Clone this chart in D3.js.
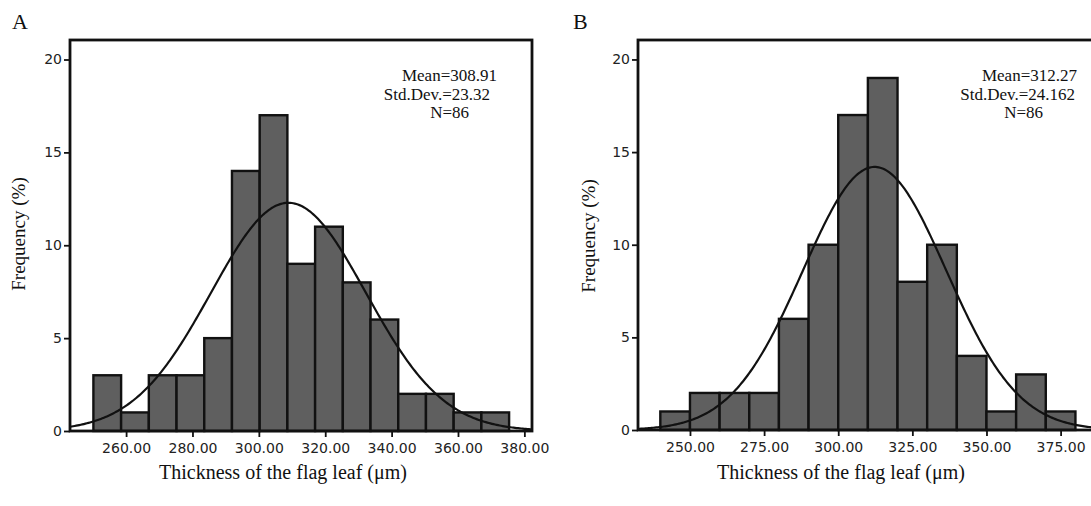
<!DOCTYPE html>
<html>
<head>
<meta charset="utf-8">
<script src="https://cdn.jsdelivr.net/npm/d3@7"></script>
<style>
  body { margin: 0; background: #fff; }
</style>
</head>
<body>
<svg id="chart" width="1091" height="506"></svg>
<script>
// panel A data
const binStartA = 250.15;
const binWidthA = 8.35;
const countsA = [3, 1, 3, 3, 5, 14, 17, 9, 11, 8, 6, 2, 2, 1, 1];
const xTicksA = [260, 280, 300, 320, 340, 360, 380];
const statsA = ["Mean=308.91", "Std.Dev.=23.32", "N=86"];
const meanA = 308.91;
const sdA = 23.32;
const nA = 86;

// panel B data
const binStartB = 240;
const binWidthB = 10;
const countsB = [1, 2, 2, 2, 6, 10, 17, 19, 8, 10, 4, 1, 3, 1];
const xTicksB = [250, 275, 300, 325, 350, 375];
const statsB = ["Mean=312.27", "Std.Dev.=24.162", "N=86"];
const meanB = 312.27;
const sdB = 24.162;
const nB = 86;

// shared
const yTicks = [0, 5, 10, 15, 20];
const xTitle = "Thickness of the flag leaf (\u03bcm)";
const yTitle = "Frequency (%)";

const SERIF = "'Liberation Serif', 'Times New Roman', serif";
const SANS = "'DejaVu Sans', sans-serif";
const COLOURS = { bar: "#5f5f5f", line: "#111", tickText: "#222" };

function histogramGenerator(){
    //dimensions
    let frame = { left: 70, right: 532, top: 40, bottom: 431 };
    let xDomain = [243.1, 382.3];
    let yMax = 21.05;

    function myHist(selection){
        selection.each(function(d){
            const g = d3.select(this);
            const x = d3.scaleLinear().domain(xDomain).range([frame.left, frame.right]);
            const y = d3.scaleLinear().domain([0, yMax]).range([frame.bottom, frame.top]);

            const bins = d.counts.map((c, i) => ({
                x0: d.binStart + i * d.binWidth,
                x1: d.binStart + (i + 1) * d.binWidth,
                count: c
            }));

            //bars
            g.append("g").attr("class", "bars")
                .selectAll("rect")
                .data(bins)
                .join("rect")
                    .attr("x", b => x(b.x0))
                    .attr("y", b => y(b.count))
                    .attr("width", b => x(b.x1) - x(b.x0))
                    .attr("height", b => y(0) - y(b.count))
                    .attr("fill", COLOURS.bar)
                    .attr("stroke", COLOURS.line)
                    .attr("stroke-width", 2.4);

            //normal curve scaled to counts
            const k = d.n * d.binWidth / (d.sd * Math.sqrt(2 * Math.PI));
            const pts = d3.range(0, 301).map(i => {
                const v = xDomain[0] + (xDomain[1] - xDomain[0]) * i / 300;
                return [v, k * Math.exp(-0.5 * Math.pow((v - d.mean) / d.sd, 2))];
            });
            g.append("path")
                .datum(pts)
                .attr("fill", "none")
                .attr("stroke", COLOURS.line)
                .attr("stroke-width", 2.2)
                .attr("d", d3.line().x(p => x(p[0])).y(p => y(p[1])));

            //frame
            g.append("rect")
                .attr("x", frame.left)
                .attr("y", frame.top)
                .attr("width", frame.right - frame.left)
                .attr("height", frame.bottom - frame.top)
                .attr("fill", "none")
                .attr("stroke", COLOURS.line)
                .attr("stroke-width", 2.8);

            //axes
            const xAxis = g.append("g")
                .attr("transform", "translate(0," + frame.bottom + ")")
                .call(d3.axisBottom(x).tickValues(d.xTicks).tickFormat(d3.format(".2f")).tickSize(6).tickPadding(6));
            const yAxis = g.append("g")
                .attr("transform", "translate(" + frame.left + ",0)")
                .call(d3.axisLeft(y).tickValues(yTicks).tickSize(6).tickPadding(2));
            [xAxis, yAxis].forEach(a => {
                a.select(".domain").remove();
                a.selectAll(".tick line").attr("stroke", COLOURS.line).attr("stroke-width", 1.8);
                a.selectAll(".tick text")
                    .attr("fill", COLOURS.tickText)
                    .style("font-family", SANS)
                    .style("font-size", "14px");
            });

            //stats text
            g.append("g").attr("class", "stats")
                .selectAll("text")
                .data(d.stats)
                .join("text")
                    .attr("x", (s, i) => d.statsX[i])
                    .attr("y", (s, i) => 81 + i * 18.5)
                    .attr("text-anchor", "end")
                    .style("font-family", SERIF)
                    .style("font-size", "17px")
                    .attr("fill", "#111")
                    .text(s => s);

            //titles
            g.append("text")
                .attr("transform", "translate(" + d.yTitleX + "," + d.yTitleY + ") rotate(-90)")
                .attr("text-anchor", "middle")
                .style("font-family", SERIF)
                .style("font-size", "19px")
                .attr("fill", "#111")
                .text(yTitle);
            g.append("text")
                .attr("x", d.xTitleX)
                .attr("y", 479)
                .attr("text-anchor", "middle")
                .style("font-family", SERIF)
                .style("font-size", "20px")
                .attr("fill", "#111")
                .text(xTitle);
            g.append("text")
                .attr("x", d.letterX)
                .attr("y", 29)
                .style("font-family", SERIF)
                .style("font-size", "22px")
                .attr("fill", "#111")
                .text(d.letter);
        });
        return selection;
    }

    // api
    myHist.frame = function (value) {
        if (!arguments.length) { return frame; }
        frame = value;
        return myHist;
    };
    myHist.xDomain = function (value) {
        if (!arguments.length) { return xDomain; }
        xDomain = value;
        return myHist;
    };
    myHist.yMax = function (value) {
        if (!arguments.length) { return yMax; }
        yMax = value;
        return myHist;
    };
    return myHist;
}

const svg = d3.select("#chart");

svg.append("g")
    .datum({
        letter: "A", letterX: 12,
        binStart: binStartA, binWidth: binWidthA, counts: countsA, xTicks: xTicksA,
        mean: meanA, sd: sdA, n: nA, stats: statsA, statsX: [497, 490, 469],
        yTitleX: 25, yTitleY: 234, xTitleX: 283
    })
    .call(histogramGenerator()
        .frame({ left: 70, right: 532, top: 40, bottom: 431 })
        .xDomain([243.1, 382.3]));

svg.append("g")
    .datum({
        letter: "B", letterX: 573,
        binStart: binStartB, binWidth: binWidthB, counts: countsB, xTicks: xTicksB,
        mean: meanB, sd: sdB, n: nB, stats: statsB, statsX: [1077, 1075, 1043],
        yTitleX: 595, yTitleY: 236, xTitleX: 841
    })
    .call(histogramGenerator()
        .frame({ left: 638, right: 1095, top: 40, bottom: 430 })
        .xDomain([232.47, 386.6]));
</script>
</body>
</html>
